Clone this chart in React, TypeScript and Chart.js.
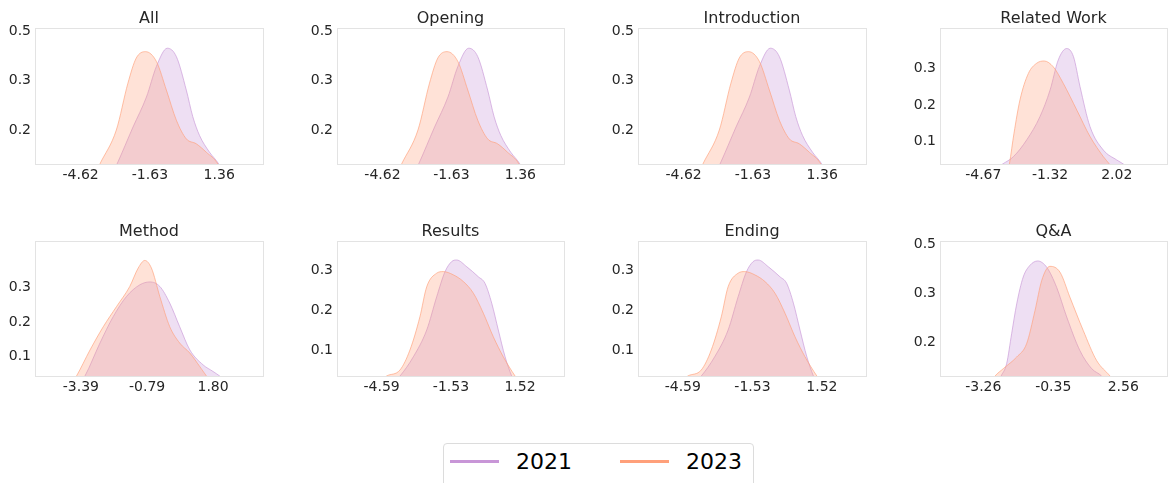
import React, { useEffect, useRef } from "react";
import { Chart, registerables } from "chart.js";

Chart.register(...registerables);

// ---------- data ----------
const titles = ["All", "Opening", "Introduction", "Related Work", "Method", "Results", "Ending", "Q&A"];
const seriesNames = ["2021", "2023"];

// All
const allX21 = [-4.3, -3.05, -2.36, -1.78, -1.35, -0.88, -0.49, -0.06, 0.22, 0.51, 0.94, 1.34, 2.3];
const allY21 = [0.06, 0.181, 0.256, 0.317, 0.379, 0.416, 0.399, 0.331, 0.277, 0.239, 0.205, 0.181, 0.09];
const allX23 = [-4.9, -3.79, -3.08, -2.58, -2.22, -1.82, -1.35, -0.92, -0.49, -0.06, 0.37, 0.8, 1.3, 2.2];
const allY23 = [0.07, 0.181, 0.25, 0.345, 0.396, 0.409, 0.389, 0.331, 0.27, 0.232, 0.222, 0.205, 0.181, 0.08];

// Opening
const openX21 = [-4.3, -3.05, -2.36, -1.78, -1.35, -0.88, -0.49, -0.06, 0.22, 0.51, 0.94, 1.34, 2.3];
const openY21 = [0.06, 0.181, 0.256, 0.317, 0.379, 0.416, 0.399, 0.331, 0.277, 0.239, 0.205, 0.181, 0.09];
const openX23 = [-4.9, -3.79, -3.08, -2.58, -2.22, -1.82, -1.35, -0.92, -0.49, -0.06, 0.37, 0.8, 1.3, 2.2];
const openY23 = [0.07, 0.181, 0.25, 0.345, 0.396, 0.409, 0.389, 0.331, 0.27, 0.232, 0.222, 0.205, 0.181, 0.08];

// Introduction
const introX21 = [-4.3, -3.05, -2.36, -1.78, -1.35, -0.88, -0.49, -0.06, 0.22, 0.51, 0.94, 1.34, 2.3];
const introY21 = [0.06, 0.181, 0.256, 0.317, 0.379, 0.416, 0.399, 0.331, 0.277, 0.239, 0.205, 0.181, 0.09];
const introX23 = [-4.9, -3.79, -3.08, -2.58, -2.22, -1.82, -1.35, -0.92, -0.49, -0.06, 0.37, 0.8, 1.3, 2.2];
const introY23 = [0.07, 0.181, 0.25, 0.345, 0.396, 0.409, 0.389, 0.331, 0.27, 0.232, 0.222, 0.205, 0.181, 0.08];

// Related Work
const relX21 = [-4.8, -3.7, -3.16, -2.49, -1.83, -1.32, -0.91, -0.49, -0.15, 0.18, 0.68, 1.35, 2.02, 2.35, 3.2];
const relY21 = [0.0, 0.039, 0.059, 0.105, 0.168, 0.241, 0.323, 0.354, 0.332, 0.25, 0.141, 0.077, 0.05, 0.039, 0.0];
const relX23 = [-3.8, -3.36, -3.13, -2.83, -2.41, -1.99, -1.62, -1.16, -0.66, 0.02, 0.68, 1.35, 1.65, 2.3];
const relY23 = [-0.08, 0.039, 0.123, 0.214, 0.286, 0.314, 0.32, 0.304, 0.259, 0.186, 0.114, 0.059, 0.039, -0.01];

// Method
const methX21 = [-4.0, -3.23, -2.64, -2.12, -1.6, -1.07, -0.68, -0.29, 0.1, 0.49, 0.89, 1.41, 1.8, 2.06, 2.8];
const methY21 = [-0.04, 0.044, 0.139, 0.215, 0.273, 0.307, 0.315, 0.302, 0.254, 0.186, 0.119, 0.076, 0.057, 0.044, 0.0];
const methX23 = [-4.3, -3.56, -3.03, -2.51, -1.99, -1.47, -1.14, -0.88, -0.62, -0.29, 0.1, 0.49, 0.89, 1.28, 1.54, 2.2];
const methY23 = [-0.04, 0.044, 0.119, 0.186, 0.244, 0.302, 0.355, 0.377, 0.355, 0.273, 0.186, 0.139, 0.11, 0.071, 0.044, -0.02];

// Results
const resX21 = [-4.6, -3.78, -3.19, -2.6, -2.16, -1.79, -1.5, -1.28, -0.83, -0.32, -0.03, 0.27, 0.56, 0.86, 1.15, 1.8];
const resY21 = [-0.01, 0.035, 0.083, 0.15, 0.233, 0.296, 0.321, 0.325, 0.308, 0.283, 0.267, 0.217, 0.15, 0.083, 0.035, -0.04];
const resX23 = [-5.2, -4.37, -3.78, -3.34, -2.9, -2.6, -2.16, -1.87, -1.43, -0.98, -0.54, -0.1, 0.34, 0.78, 1.3, 2.0];
const resY23 = [0.0, 0.035, 0.05, 0.1, 0.183, 0.258, 0.292, 0.296, 0.288, 0.271, 0.242, 0.192, 0.133, 0.083, 0.035, -0.02];

// Ending
const endX21 = [-4.6, -3.78, -3.19, -2.6, -2.16, -1.79, -1.5, -1.28, -0.83, -0.32, -0.03, 0.27, 0.56, 0.86, 1.15, 1.8];
const endY21 = [-0.01, 0.035, 0.083, 0.15, 0.233, 0.296, 0.321, 0.325, 0.308, 0.283, 0.267, 0.217, 0.15, 0.083, 0.035, -0.04];
const endX23 = [-5.2, -4.37, -3.78, -3.34, -2.9, -2.6, -2.16, -1.87, -1.43, -0.98, -0.54, -0.1, 0.34, 0.78, 1.3, 2.0];
const endY23 = [0.0, 0.035, 0.05, 0.1, 0.183, 0.258, 0.292, 0.296, 0.288, 0.271, 0.242, 0.192, 0.133, 0.083, 0.035, -0.02];

// Q&A
const qaX21 = [-3.3, -2.52, -2.29, -2.08, -1.87, -1.6, -1.32, -1.0, -0.62, -0.21, 0.21, 0.76, 1.25, 1.66, 2.6];
const qaY21 = [0.1, 0.18, 0.205, 0.267, 0.328, 0.383, 0.407, 0.416, 0.403, 0.362, 0.301, 0.232, 0.195, 0.18, 0.12];
const qaX23 = [-3.6, -2.77, -2.43, -1.87, -1.46, -1.11, -0.83, -0.49, -0.07, 0.34, 0.9, 1.45, 2.01, 2.8];
const qaY23 = [0.12, 0.18, 0.195, 0.219, 0.246, 0.314, 0.376, 0.405, 0.393, 0.342, 0.273, 0.212, 0.18, 0.13];

// tick values / labels
const xTicksA = [-4.62, -1.63, 1.36];
const xLabelsA = ["-4.62", "-1.63", "1.36"];
const xTicksRel = [-4.67, -1.32, 2.02];
const xLabelsRel = ["-4.67", "-1.32", "2.02"];
const xTicksMeth = [-3.39, -0.79, 1.8];
const xLabelsMeth = ["-3.39", "-0.79", "1.80"];
const xTicksRes = [-4.59, -1.53, 1.52];
const xLabelsRes = ["-4.59", "-1.53", "1.52"];
const xTicksQa = [-3.26, -0.35, 2.56];
const xLabelsQa = ["-3.26", "-0.35", "2.56"];

const yTicksHigh = [0.25, 0.35, 0.45];
const yLabelsHigh = ["0.2", "0.3", "0.5"];
const yTicksLow = [0.1, 0.2, 0.3];
const yLabelsLow = ["0.1", "0.2", "0.3"];

type PanelDef = {
  title: string;
  x21: number[]; y21: number[]; x23: number[]; y23: number[];
  xMin: number; xMax: number; xTicks: number[]; xLabels: string[];
  yMin: number; yMax: number; yTicks: number[]; yLabels: string[];
};

const panels: PanelDef[] = [
  { title: titles[0], x21: allX21, y21: allY21, x23: allX23, y23: allY23, xMin: -6.59, xMax: 3.25, xTicks: xTicksA, xLabels: xLabelsA, yMin: 0.181, yMax: 0.457, yTicks: yTicksHigh, yLabels: yLabelsHigh },
  { title: titles[1], x21: openX21, y21: openY21, x23: openX23, y23: openY23, xMin: -6.59, xMax: 3.25, xTicks: xTicksA, xLabels: xLabelsA, yMin: 0.181, yMax: 0.457, yTicks: yTicksHigh, yLabels: yLabelsHigh },
  { title: titles[2], x21: introX21, y21: introY21, x23: introX23, y23: introY23, xMin: -6.59, xMax: 3.25, xTicks: xTicksA, xLabels: xLabelsA, yMin: 0.181, yMax: 0.457, yTicks: yTicksHigh, yLabels: yLabelsHigh },
  { title: titles[3], x21: relX21, y21: relY21, x23: relX23, y23: relY23, xMin: -6.84, xMax: 4.54, xTicks: xTicksRel, xLabels: xLabelsRel, yMin: 0.039, yMax: 0.41, yTicks: yTicksLow, yLabels: yLabelsLow },
  { title: titles[4], x21: methX21, y21: methY21, x23: methX23, y23: methY23, xMin: -5.19, xMax: 3.76, xTicks: xTicksMeth, xLabels: xLabelsMeth, yMin: 0.044, yMax: 0.433, yTicks: yTicksLow, yLabels: yLabelsLow },
  { title: titles[5], x21: resX21, y21: resY21, x23: resX23, y23: resY23, xMin: -6.56, xMax: 3.46, xTicks: xTicksRes, xLabels: xLabelsRes, yMin: 0.035, yMax: 0.3725, yTicks: yTicksLow, yLabels: yLabelsLow },
  { title: titles[6], x21: endX21, y21: endY21, x23: endX23, y23: endY23, xMin: -6.56, xMax: 3.46, xTicks: xTicksRes, xLabels: xLabelsRes, yMin: 0.035, yMax: 0.3725, yTicks: yTicksLow, yLabels: yLabelsLow },
  { title: titles[7], x21: qaX21, y21: qaY21, x23: qaX23, y23: qaY23, xMin: -5.06, xMax: 4.38, xTicks: xTicksQa, xLabels: xLabelsQa, yMin: 0.18, yMax: 0.457, yTicks: yTicksHigh, yLabels: yLabelsHigh },
];

// ---------- styles / layout ----------
const FONT = "'DejaVu Sans', sans-serif";
const TEXT = "#262626";
const LINE21 = "rgb(200,150,215)";
const LINE23 = "rgb(255,160,122)";
const EDGE21 = "rgba(200,150,215,0.65)";
const EDGE23 = "rgba(255,160,122,0.65)";
const FILL21 = "rgba(200,150,215,0.3)";
const FILL23 = "rgba(255,160,122,0.3)";

const colLeft = [35, 337, 638, 940];
const colWidth = [228, 227, 228, 227];
const rowTop = [28, 241];
const rowHeight = [136, 135];
const Y_AXIS_W = 35;
const TITLE_H = 28;
const X_AXIS_H = 25;

const framePlugin = {
  id: "frame",
  afterDatasetsDraw(chart: any) {
    const { ctx, chartArea } = chart;
    const { left, top, right, bottom } = chartArea;
    ctx.save();
    ctx.strokeStyle = "#e3e3e3";
    ctx.lineWidth = 1;
    ctx.strokeRect(left + 0.5, top + 0.5, right - left, bottom - top);
    ctx.restore();
  },
};

const titlePlugin = {
  id: "panelTitle",
  afterDraw(chart: any, _args: any, opts: any) {
    const { ctx, chartArea } = chart;
    ctx.save();
    ctx.font = `16px ${FONT}`;
    ctx.fillStyle = TEXT;
    ctx.textAlign = "center";
    ctx.textBaseline = "middle";
    ctx.fillText(opts.text, (chartArea.left + chartArea.right) / 2, 19);
    ctx.restore();
  },
};

function Panel({ p, left, top, w, h }: { p: PanelDef; left: number; top: number; w: number; h: number }) {
  const ref = useRef<HTMLCanvasElement>(null);
  const cw = Y_AXIS_W + w + 1;
  const ch = TITLE_H + h + X_AXIS_H;
  useEffect(() => {
    const chart = new Chart(ref.current as HTMLCanvasElement, {
      type: "line",
      data: {
        datasets: [
          {
            label: seriesNames[0],
            data: p.x21.map((x, i) => ({ x, y: p.y21[i] })),
            borderColor: EDGE21,
            backgroundColor: FILL21,
            borderWidth: 1,
            fill: "start",
            pointRadius: 0,
            cubicInterpolationMode: "monotone",
            order: 2,
          },
          {
            label: seriesNames[1],
            data: p.x23.map((x, i) => ({ x, y: p.y23[i] })),
            borderColor: EDGE23,
            backgroundColor: FILL23,
            borderWidth: 1,
            fill: "start",
            pointRadius: 0,
            cubicInterpolationMode: "monotone",
            order: 1,
          },
        ],
      },
      options: {
        responsive: false,
        animation: false,
        devicePixelRatio: 1,
        layout: { padding: { left: 0, right: 1, top: TITLE_H, bottom: 0 } },
        plugins: {
          legend: { display: false },
          tooltip: { enabled: false },
          title: { display: false },
          panelTitle: { text: p.title },
        } as any,
        scales: {
          x: {
            type: "linear",
            min: p.xMin,
            max: p.xMax,
            grid: { display: false, drawTicks: false },
            border: { display: false },
            afterBuildTicks: (a: any) => {
              a.ticks = p.xTicks.map((v) => ({ value: v }));
            },
            afterFit: (a: any) => {
              a.height = X_AXIS_H;
            },
            ticks: {
              autoSkip: false,
              maxRotation: 0,
              padding: 3,
              color: TEXT,
              font: { family: FONT, size: 14 },
              callback: (_v: any, i: number) => p.xLabels[i],
            },
          },
          y: {
            type: "linear",
            min: p.yMin,
            max: p.yMax,
            grid: { display: false, drawTicks: false },
            border: { display: false },
            afterBuildTicks: (a: any) => {
              a.ticks = p.yTicks.map((v) => ({ value: v }));
            },
            afterFit: (a: any) => {
              a.width = Y_AXIS_W;
            },
            ticks: {
              autoSkip: false,
              padding: 4,
              color: TEXT,
              font: { family: FONT, size: 14 },
              callback: (_v: any, i: number) => p.yLabels[i],
            },
          },
        },
      },
      plugins: [framePlugin, titlePlugin],
    } as any);
    return () => chart.destroy();
  }, []);
  return (
    <canvas
      ref={ref}
      width={cw}
      height={ch}
      style={{ position: "absolute", left: left - Y_AXIS_W, top: top - TITLE_H, width: cw, height: ch }}
    />
  );
}

export default function App() {
  return (
    <div
      style={{
        position: "absolute",
        left: 0,
        top: 0,
        width: 1168,
        height: 483,
        background: "#ffffff",
        overflow: "hidden",
        fontFamily: FONT,
      }}
    >
      {panels.map((p, i) => {
        const r = Math.floor(i / 4);
        const c = i % 4;
        return <Panel key={i} p={p} left={colLeft[c]} top={rowTop[r]} w={colWidth[c]} h={rowHeight[r]} />;
      })}
      <div
        style={{
          position: "absolute",
          left: 443,
          top: 443,
          width: 309,
          height: 42,
          border: "1px solid #dcdcdc",
          borderRadius: 4,
          boxSizing: "content-box",
        }}
      >
        <div style={{ position: "absolute", left: 6, top: 16, width: 49, height: 3, background: LINE21 }} />
        <span style={{ position: "absolute", left: 72, top: 7, fontSize: 22, lineHeight: "22px", color: "#000", whiteSpace: "nowrap" }}>
          {seriesNames[0]}
        </span>
        <div style={{ position: "absolute", left: 176, top: 16, width: 49, height: 3, background: LINE23 }} />
        <span style={{ position: "absolute", left: 242, top: 7, fontSize: 22, lineHeight: "22px", color: "#000", whiteSpace: "nowrap" }}>
          {seriesNames[1]}
        </span>
      </div>
    </div>
  );
}
